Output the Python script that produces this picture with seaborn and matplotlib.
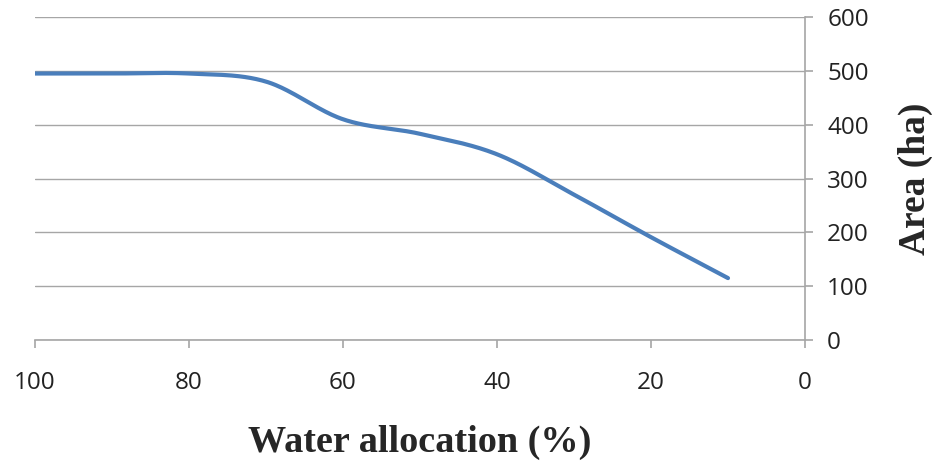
import numpy as np
import pandas as pd
import matplotlib
matplotlib.use("Agg")
import matplotlib.pyplot as plt
import seaborn as sns

# ---- data ----
water_allocation = [100, 90, 80, 70, 60, 50, 40, 30, 20, 10]
area_ha = [495, 495, 495, 480, 410, 383, 345, 270, 191, 115]
x_ticks = [100, 80, 60, 40, 20, 0]
y_ticks = [0, 100, 200, 300, 400, 500, 600]

x_label = "Water allocation (%)"
y_label = "Area (ha)"

sns.set_theme(style="white")
plt.rcParams["font.family"] = ["Open Sans", "DejaVu Sans"]


def catmull_rom(xv, yv, n=40):
    """Smooth (Excel-style) rendering curve through the data points."""
    p = np.column_stack([xv, yv]).astype(float)
    p = np.vstack([p[0], p, p[-1]])
    out = []
    for i in range(1, len(p) - 2):
        p0, p1, p2, p3 = p[i - 1], p[i], p[i + 1], p[i + 2]
        t = np.linspace(0, 1, n, endpoint=False)[:, None]
        seg = 0.5 * ((2 * p1) + (-p0 + p2) * t + (2 * p0 - 5 * p1 + 4 * p2 - p3) * t ** 2
                     + (-p0 + 3 * p1 - 3 * p2 + p3) * t ** 3)
        out.append(seg)
    out.append(p[-2][None, :])
    c = np.vstack(out)
    return c[:, 0], c[:, 1]


sx, sy = catmull_rom(water_allocation, area_ha)
df = pd.DataFrame({"x": sx, "y": sy})

fig = plt.figure(figsize=(9.34, 4.63), dpi=100)
ax = fig.add_axes([35 / 934, 1 - 340 / 463, (805 - 35) / 934, (340 - 17) / 463])

sns.lineplot(data=df, x="x", y="y", ax=ax, color="#4A7EBB", linewidth=3.0,
             sort=False, estimator=None, solid_capstyle="round")

ax.set_xlim(100, 0)
ax.set_ylim(0, 600)
ax.set_xticks(x_ticks)
ax.set_yticks(y_ticks)
ax.set_xticklabels([str(v) for v in x_ticks])
ax.set_yticklabels([str(v) for v in y_ticks])

ax.yaxis.tick_right()
ax.yaxis.set_label_position("right")
ax.grid(axis="y", color="#A6A6A6", linewidth=1.0)
ax.grid(axis="x", visible=False)
ax.set_axisbelow(True)

for s in ["top", "left"]:
    ax.spines[s].set_visible(False)
for s in ["bottom", "right"]:
    ax.spines[s].set_color("#A6A6A6")
    ax.spines[s].set_linewidth(1.2)

ax.tick_params(axis="x", direction="out", length=6, width=1.2, color="#A6A6A6",
               labelsize=17.5, labelcolor="#222222", pad=16, bottom=True)
ax.tick_params(axis="y", direction="out", length=6, width=1.2, color="#A6A6A6",
               labelsize=17.5, labelcolor="#222222", pad=10, right=True, left=False)

ax.set_xlabel(x_label, fontsize=27.5, fontweight="bold", family="Liberation Serif",
              labelpad=22)
ax.set_ylabel(y_label, fontsize=27, fontweight="bold", family="Liberation Serif",
              rotation=90, labelpad=21)

fig.savefig("out.png", dpi=100, facecolor="white")
